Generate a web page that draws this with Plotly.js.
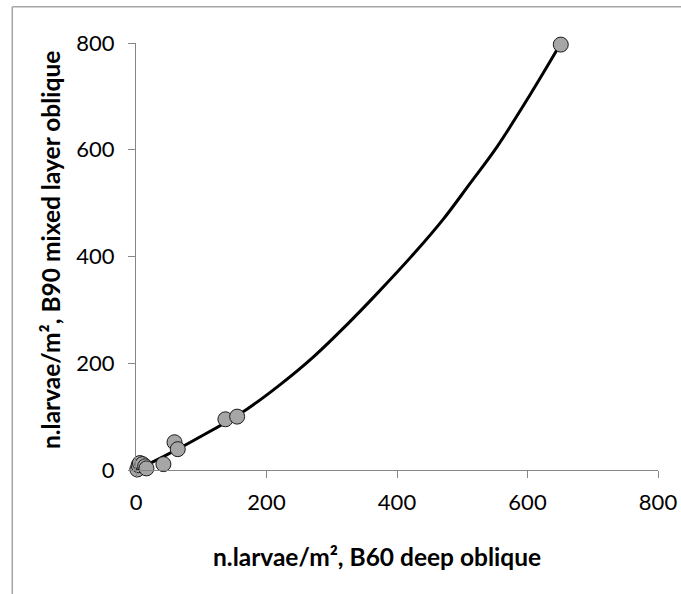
<!DOCTYPE html>
<html>
<head>
<meta charset="utf-8">
<script src="https://cdn.plot.ly/plotly-3.0.1.min.js"></script>
<style>html,body{margin:0;padding:0;background:#fff;}#chart{width:681px;height:594px;}</style>
</head>
<body>
<div id="chart"></div>
<script>
// Observed samples
const deepOblique = [2, 4, 6, 10, 14, 16, 42, 59, 64, 137, 155, 651];
const mixedLayerOblique = [1, 9, 13, 11, 7, 3, 11, 52, 39, 95, 100, 797];
// Fitted trend curve
const trendX = [0, 42, 113, 170, 221, 272, 323, 369, 425, 471, 512, 553, 604, 650];
const trendY = [0, 25, 72, 114, 160, 212, 272, 330, 404, 470, 537, 605, 703, 797];
const tickVals = [0, 200, 400, 600, 800];
const xTitle = 'n.larvae/m², B60 deep oblique';
const yTitle = 'n.larvae/m², B90 mixed layer oblique';

const FONT = 'Lato, "Open Sans", sans-serif';
const axisGray = '#868686';

const traces = [
  {x: trendX, y: trendY, type: 'scatter', mode: 'lines', cliponaxis: false,
   line: {color: '#000', width: 3, shape: 'spline', smoothing: 1}, hoverinfo: 'skip'},
  {x: deepOblique, y: mixedLayerOblique, type: 'scatter', mode: 'markers', cliponaxis: false,
   marker: {size: 15, color: '#a6a6a6', line: {color: '#1a1a1a', width: 1}}}
];

const axisCommon = {
  range: [0, 800], tickvals: tickVals, showgrid: false, zeroline: false,
  showline: true, linecolor: axisGray, linewidth: 1,
  ticks: 'outside', ticklen: 7, tickcolor: axisGray, tickwidth: 1,
  tickfont: {family: FONT, size: 22, color: '#000'}
};

const layout = {
  width: 681, height: 594,
  margin: {l: 136, r: 23, t: 43, b: 124},
  paper_bgcolor: '#fff', plot_bgcolor: '#fff',
  showlegend: false,
  xaxis: Object.assign({}, axisCommon, {ticklabelstandoff: 6}),
  yaxis: Object.assign({}, axisCommon, {ticklabelstandoff: 9}),
  annotations: [
    {text: xTitle, xref: 'paper', yref: 'paper', x: 0.4617, y: -0.2037,
     xanchor: 'center', yanchor: 'middle', showarrow: false,
     font: {family: FONT, size: 24.5, color: '#000', weight: 'bold'}},
    {text: yTitle, xref: 'paper', yref: 'paper', x: -0.1648, y: 0.515,
     xanchor: 'center', yanchor: 'middle', showarrow: false, textangle: -90,
     font: {family: FONT, size: 24.5, color: '#000', weight: 'bold'}}
  ],
  shapes: [
    {type: 'line', xref: 'paper', yref: 'paper', x0: -0.237, x1: 1.06, y0: 1.085, y1: 1.085,
     line: {color: '#a6a6a6', width: 1.5}},
    {type: 'line', xref: 'paper', yref: 'paper', x0: -0.237, x1: -0.237, y0: 1.085, y1: -0.3,
     line: {color: '#a6a6a6', width: 1.5}}
  ]
};

Plotly.newPlot('chart', traces, layout, {displayModeBar: false, staticPlot: true});
</script>
</body>
</html>
